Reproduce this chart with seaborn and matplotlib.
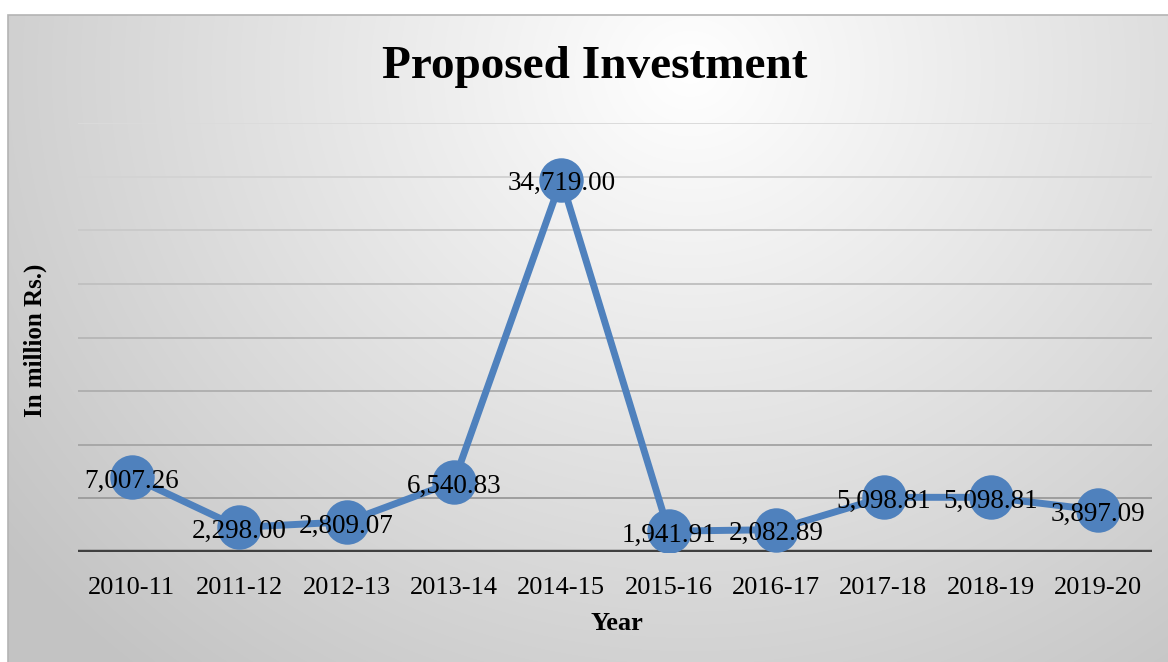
import numpy as np
import pandas as pd
import matplotlib
matplotlib.use("Agg")
import matplotlib.pyplot as plt
import matplotlib.transforms as mtransforms
from matplotlib.patches import Rectangle
import seaborn as sns

# Proposed investment per financial year (in million Rs.)
years = ["2010-11", "2011-12", "2012-13", "2013-14", "2014-15",
         "2015-16", "2016-17", "2017-18", "2018-19", "2019-20"]
investment = [7007.26, 2298.00, 2809.07, 6540.83, 34719.00,
              1941.91, 2082.89, 5098.81, 5098.81, 3897.09]
y_ticks = [0, 5000, 10000, 15000, 20000, 25000, 30000, 35000, 40000]

df = pd.DataFrame({"Year": years, "Investment": investment})

sns.set_theme(style="white")
plt.rcParams["font.family"] = ["Liberation Serif", "DejaVu Serif"]
plt.rcParams["text.color"] = "black"
plt.rcParams["xtick.color"] = "black"

W, H = 1168, 662
fig = plt.figure(figsize=(W / 100, H / 100), dpi=100)
fig.patch.set_facecolor("white")

# radial grey gradient behind the chart area
bx0, by0 = 8, 15
bg = fig.add_axes([bx0 / W, 0, 1 - bx0 / W, 1 - by0 / H], zorder=-10)
gx, gy = np.meshgrid(np.arange(bx0, W), np.arange(by0, H))
r = np.hypot(gx - 690, (gy - 70) * 1.1)
shade = np.clip(255 - 62 * (r / 900), 195, 255) / 255.0
bg.imshow(np.dstack([shade] * 3), aspect="auto", interpolation="bilinear")
bg.set_axis_off()
fig.patches.append(Rectangle((bx0 / W, -0.01), 1.0, 1 - by0 / H + 0.01,
                             transform=fig.transFigure, fill=False,
                             edgecolor="#b4b4b4", linewidth=1.2, zorder=-5))

ax = fig.add_axes([78 / W, 1 - 552 / H, (1152 - 78) / W, (552 - 123) / H])
ax.patch.set_alpha(0)

# horizontal gridlines, darkening toward the baseline
n_grid = len(y_ticks) - 1
for i, val in enumerate(y_ticks[1:]):
    c = 0.62 + (0.86 - 0.62) * (i / (n_grid - 1))
    ax.axhline(val, color=(c, c, c), linewidth=1.4, zorder=0)
ax.axhline(0, color="#404040", linewidth=3.2, zorder=1)

blue = "#4f81bd"
sns.lineplot(data=df, x="Year", y="Investment", ax=ax, color=blue,
             linewidth=5, marker="o", markersize=32, markeredgewidth=0,
             sort=False, zorder=3)

label_shift = mtransforms.offset_copy(ax.transData, fig=fig, x=0, y=-3,
                                      units="points")
for i, v in enumerate(investment):
    ax.text(i, v, f"{v:,.2f}", ha="center", va="center", fontsize=19.5,
            color="black", zorder=5, transform=label_shift)

ax.set_xlim(-0.5, len(years) - 0.5)
ax.set_ylim(0, 40000)
ax.set_yticks([])
ax.set_xticks(range(len(years)))
ax.set_xticklabels(years, fontsize=19, color="black")
ax.tick_params(axis="x", length=0, pad=18)
for s in ax.spines.values():
    s.set_visible(False)
ax.set_xlabel("")
ax.set_ylabel("")

fig.text(595 / W, 1 - 67 / H, "Proposed Investment", ha="center", va="center",
         fontsize=34, fontweight="bold", color="black")
fig.text(617 / W, 1 - 624 / H, "Year", ha="center", va="center",
         fontsize=19, fontweight="bold", color="black")
fig.text(35 / W, 1 - 340 / H, "In million Rs.)", ha="center", va="center",
         rotation=90, fontsize=18, fontweight="bold", color="black")

fig.savefig("out.png", dpi=100)
